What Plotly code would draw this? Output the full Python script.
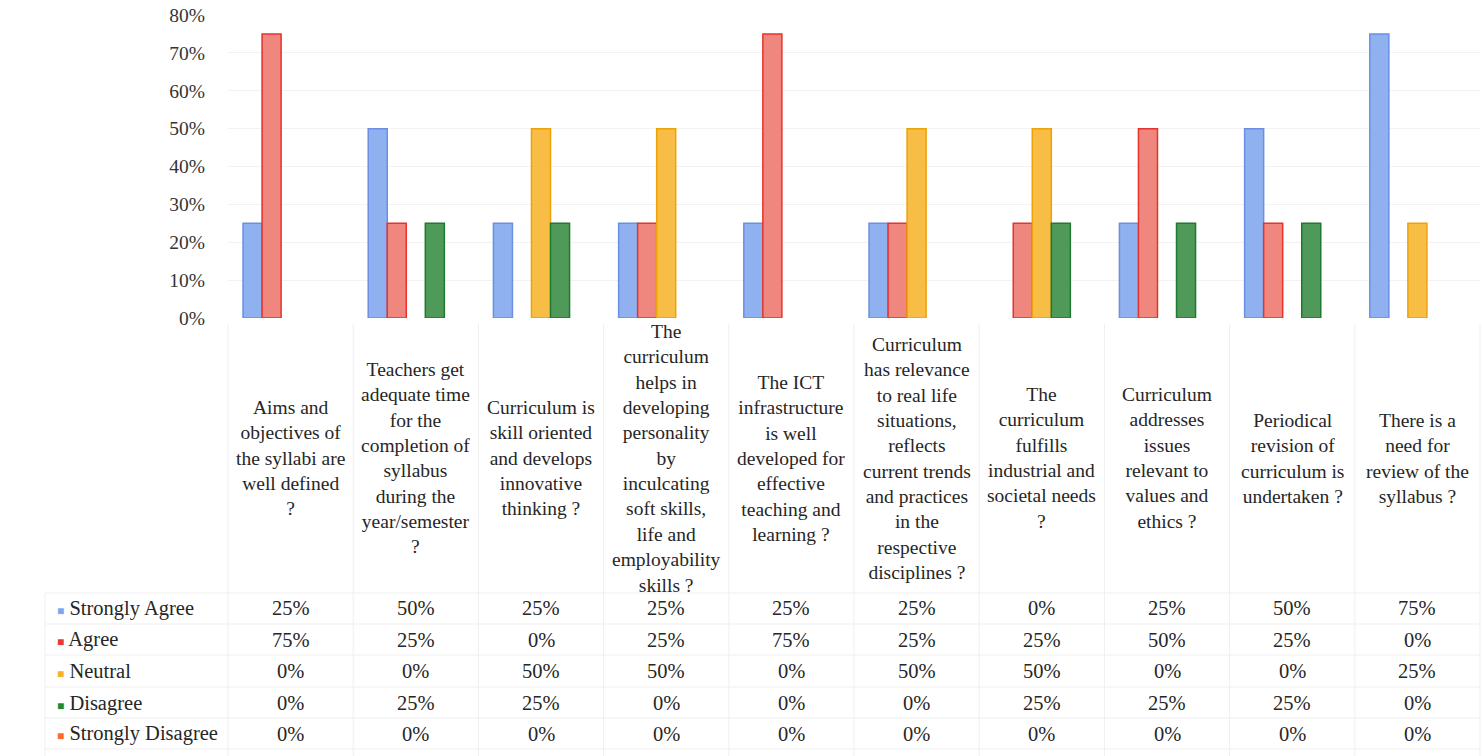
import plotly.graph_objects as go

categories = [
    "Aims and<br>objectives of<br>the syllabi are<br>well defined<br>?",
    "Teachers get<br>adequate time<br>for the<br>completion of<br>syllabus<br>during the<br>year/semester<br>?",
    "Curriculum is<br>skill oriented<br>and develops<br>innovative<br>thinking ?",
    "The<br>curriculum<br>helps in<br>developing<br>personality<br>by<br>inculcating<br>soft skills,<br>life and<br>employability<br>skills ?",
    "The ICT<br>infrastructure<br>is well<br>developed for<br>effective<br>teaching and<br>learning ?",
    "Curriculum<br>has relevance<br>to real life<br>situations,<br>reflects<br>current trends<br>and practices<br>in the<br>respective<br>disciplines ?",
    "The<br>curriculum<br>fulfills<br>industrial and<br>societal needs<br>?",
    "Curriculum<br>addresses<br>issues<br>relevant to<br>values and<br>ethics ?",
    "Periodical<br>revision of<br>curriculum is<br>undertaken ?",
    "There is a<br>need for<br>review of the<br>syllabus ?",
]
cat_ids = [f"Q{i+1}" for i in range(len(categories))]

series_names = ["Strongly Agree", "Agree", "Neutral", "Disagree", "Strongly Disagree"]
strongly_agree = [25, 50, 25, 25, 25, 25, 0, 25, 50, 75]
agree = [75, 25, 0, 25, 75, 25, 25, 50, 25, 0]
neutral = [0, 0, 50, 50, 0, 50, 50, 0, 0, 25]
disagree = [0, 25, 25, 0, 0, 0, 25, 25, 25, 0]
strongly_disagree = [0, 0, 0, 0, 0, 0, 0, 0, 0, 0]
series_values = [strongly_agree, agree, neutral, disagree, strongly_disagree]

y_ticks = [0, 10, 20, 30, 40, 50, 60, 70, 80]

fills = ["#8fb1f0", "#f0877f", "#f7bd45", "#4f9a58", "#ff7a3a"]
borders = ["#6a8fe3", "#e6332b", "#eda20a", "#1f7a2f", "#f05a1a"]
keys = ["#7ea6f2", "#e8382f", "#f6b12b", "#1f8a34", "#ff6a2a"]

W, H = 1483, 756
T, B = 15, 318  # plot top / bottom pixel
L, R = 228, 1480
PH = B - T
FONT = "Liberation Serif"


def py(pix):
    return (B - pix) / PH


def px(pix):
    return (pix - L) / (R - L)


fig = go.Figure()
for name, vals, f, b in zip(series_names, series_values, fills, borders):
    fig.add_trace(go.Bar(
        x=cat_ids, y=vals, name=name,
        marker=dict(color=f, line=dict(color=b, width=[1.5 if v else 0 for v in vals])),
        showlegend=False,
    ))

annotations = []
for cid, lab in zip(cat_ids, categories):
    annotations.append(dict(
        x=cid, xref="x", y=py(458), yref="paper", text=lab, showarrow=False,
        xanchor="center", yanchor="middle", align="center",
        font=dict(family=FONT, size=19.5, color="#262626"),
    ))

row_pix = [608, 640, 671, 703, 734]
for name, vals, k, rp in zip(series_names, series_values, keys, row_pix):
    annotations.append(dict(
        x=px(55), xref="paper", y=py(rp), yref="paper",
        text=f"<span style='color:{k};font-size:12px'>■</span> {name}",
        showarrow=False, xanchor="left", yanchor="middle",
        font=dict(family=FONT, size=20.5, color="#262626"),
    ))
    for cid, v in zip(cat_ids, vals):
        annotations.append(dict(
            x=cid, xref="x", y=py(rp), yref="paper", text=f"{v}%",
            showarrow=False, xanchor="center", yanchor="middle",
            font=dict(family=FONT, size=20.5, color="#262626"),
        ))

shapes = []
gcol = "#efefef"
for i in range(len(cat_ids) + 1):
    xp = L + i * (R - L) / len(cat_ids)
    shapes.append(dict(type="line", xref="paper", yref="paper",
                       x0=px(xp), x1=px(xp), y0=py(324), y1=py(756),
                       line=dict(color=gcol, width=1)))
shapes.append(dict(type="line", xref="paper", yref="paper",
                   x0=px(45), x1=px(45), y0=py(593), y1=py(756),
                   line=dict(color=gcol, width=1)))
for yl in [593, 624, 655, 687, 718, 749]:
    shapes.append(dict(type="line", xref="paper", yref="paper",
                       x0=px(45), x1=px(R), y0=py(yl), y1=py(yl),
                       line=dict(color=gcol, width=1)))

fig.update_layout(
    width=W, height=H,
    margin=dict(l=L, r=W - R, t=T, b=H - B, autoexpand=False),
    paper_bgcolor="white", plot_bgcolor="white",
    barmode="group", bargap=0.24, bargroupgap=0,
    annotations=annotations, shapes=shapes,
    xaxis=dict(showticklabels=False, showgrid=False, zeroline=False,
               showline=False, ticks="", automargin=False),
    yaxis=dict(range=[0, 80], tickvals=y_ticks,
               ticktext=[f"{t}%" for t in y_ticks],
               showgrid=True, gridcolor="#f2f2f2", zeroline=False,
               showline=False, ticks="", ticklabelstandoff=22, automargin=False,
               tickfont=dict(family=FONT, size=19.5, color="#333333")),
    font=dict(family=FONT),
)

fig.write_html("out.html", config={"displayModeBar": False},
               post_script="document.body.style.margin='0px';")
